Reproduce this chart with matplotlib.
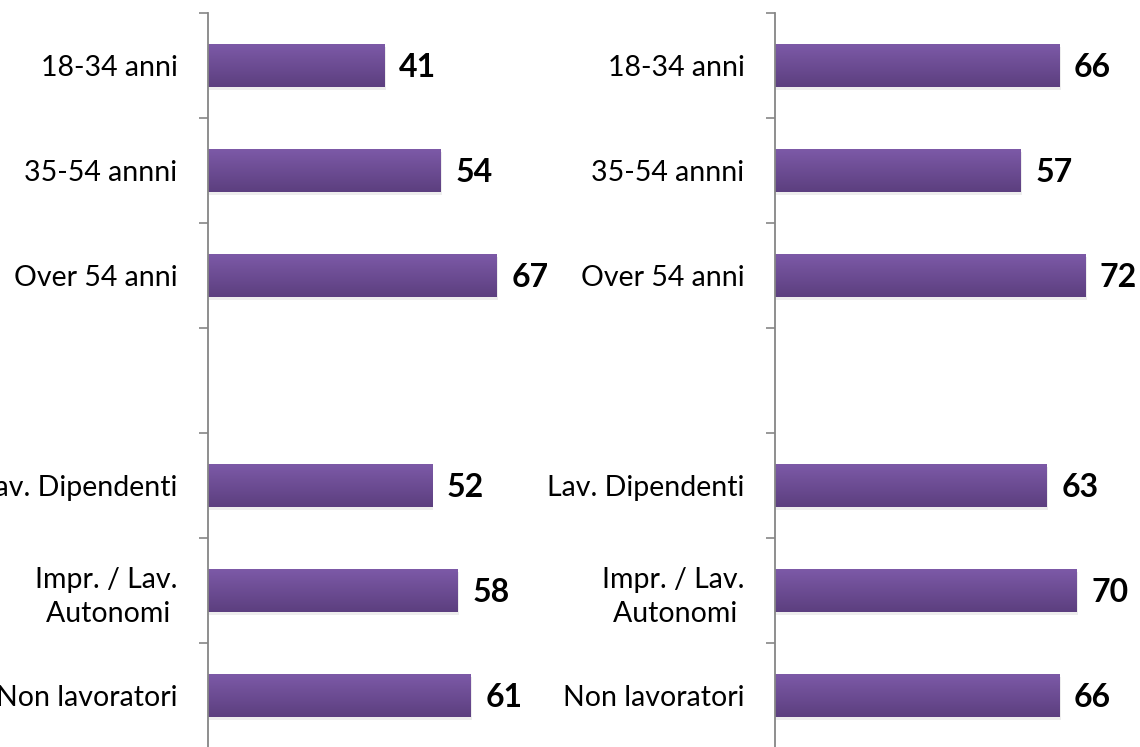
import numpy as np
import matplotlib
matplotlib.use("Agg")
from matplotlib import pyplot as plt
from matplotlib.colors import LinearSegmentedColormap

plt.rcParams["font.family"] = ["Lato", "DejaVu Sans"]

categories = ["18-34 anni", "35-54 annni", "Over 54 anni", "",
              "Lav. Dipendenti", "Impr. / Lav.\nAutonomi ", "Non lavoratori"]
left_values = [41, 54, 67, None, 52, 58, 61]
right_values = [66, 57, 72, None, 63, 70, 66]

W, H = 1140, 747
px_per_unit = 4.31
purple = LinearSegmentedColormap.from_list("purple", ["#7d5aa8", "#5c3f7f"])
grad = np.linspace(0, 1, 64).reshape(-1, 1)


def draw_panel(ax, values):
    pos = [i for i, v in enumerate(values) if v is not None]
    vals = [values[i] for i in pos]
    bars = ax.barh(pos, vals, height=0.41, color="none", edgecolor="none")
    for b, v in zip(bars, vals):
        x0, y0 = b.get_x(), b.get_y()
        w, h = b.get_width(), b.get_height()
        # soft shadow under the bar
        ax.barh(y0 + h / 2 + 0.025, w, left=x0 + 0.3, height=h,
                color="#000000", alpha=0.07, zorder=1)
        im = ax.imshow(grad, cmap=purple, aspect="auto", zorder=2,
                       extent=(x0, x0 + w, y0 + h, y0))
        im.set_clip_path(b)
        ax.text(v + 3.4, y0 + h / 2 + 0.02, str(v), va="center", ha="left",
                fontsize=23, fontweight="bold", color="#000000")
    ax.set_yticks(range(len(categories)))
    ax.set_yticklabels(categories, fontsize=20.5, linespacing=1.4)
    ax.set_yticks(np.arange(-0.5, len(categories)), minor=True)
    ax.tick_params(axis="y", which="major", length=0, pad=22)
    ax.tick_params(axis="y", which="minor", length=6.5, width=1.2,
                   color="#868686")
    ax.set_ylim(len(categories) - 0.5, -0.5)
    ax.set_xticks([])
    for s in ["top", "right", "bottom"]:
        ax.spines[s].set_visible(False)
    ax.spines["left"].set_color("#868686")
    ax.spines["left"].set_linewidth(1.3)
    ax.set_facecolor("none")


fig = plt.figure(figsize=(W / 100, H / 100), dpi=100)
bottom = (H - 748) / H
height = (748 - 13) / H
width_px = 540
for x_left, values in [(208, left_values), (775, right_values)]:
    ax = fig.add_axes([x_left / W, bottom, width_px / W, height])
    ax.set_xlim(0, width_px / px_per_unit)
    draw_panel(ax, values)

fig.savefig("out.png", dpi=100)
